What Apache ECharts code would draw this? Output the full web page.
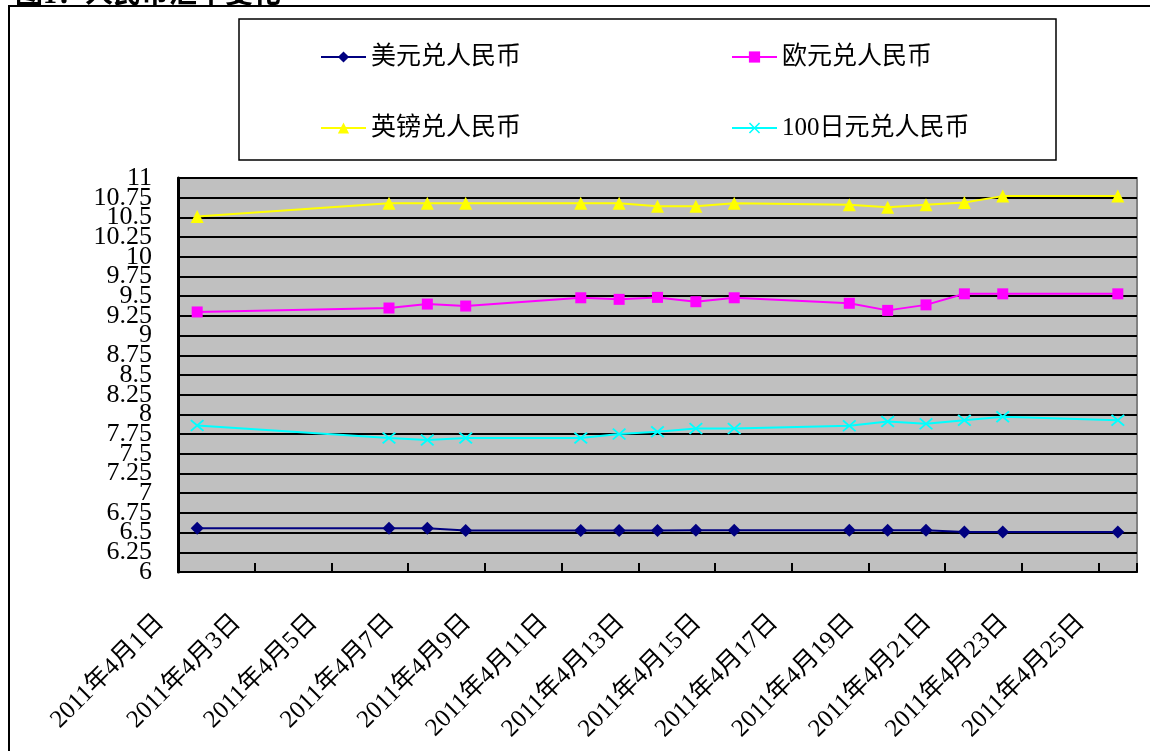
<!DOCTYPE html>
<html>
<head>
<meta charset="utf-8">
<script src="https://cdn.jsdelivr.net/npm/echarts@6/dist/echarts.min.js"></script>
<style>
html,body{margin:0;padding:0;background:#fff;}
#frame{position:absolute;left:8px;top:5px;width:1200px;height:800px;border-left:2px solid #000;border-top:2px solid #000;box-sizing:border-box;}
#main{position:absolute;left:0;top:0;width:1150px;height:751px;}
</style>
</head>
<body>
<div id="frame"></div>
<div id="main"></div>
<script>
// x-axis categories (every calendar day)
const categories = [
  "2011年4月1日","2011年4月2日","2011年4月3日","2011年4月4日","2011年4月5日",
  "2011年4月6日","2011年4月7日","2011年4月8日","2011年4月9日","2011年4月10日",
  "2011年4月11日","2011年4月12日","2011年4月13日","2011年4月14日","2011年4月15日",
  "2011年4月16日","2011年4月17日","2011年4月18日","2011年4月19日","2011年4月20日",
  "2011年4月21日","2011年4月22日","2011年4月23日","2011年4月24日","2011年4月25日"
];
// trading days that carry a value
const tradeDates = [
  "2011年4月1日","2011年4月6日","2011年4月7日","2011年4月8日","2011年4月11日",
  "2011年4月12日","2011年4月13日","2011年4月14日","2011年4月15日","2011年4月18日",
  "2011年4月19日","2011年4月20日","2011年4月21日","2011年4月22日","2011年4月25日"
];
const seriesNames = ["美元兑人民币","欧元兑人民币","英镑兑人民币","100日元兑人民币"];
const usd = [6.556,6.556,6.556,6.527,6.528,6.528,6.528,6.530,6.530,6.530,6.530,6.530,6.508,6.507,6.507];
const eur = [9.30,9.35,9.40,9.375,9.48,9.46,9.485,9.43,9.48,9.41,9.32,9.39,9.53,9.53,9.53];
const gbp = [10.51,10.68,10.68,10.68,10.68,10.68,10.64,10.64,10.68,10.66,10.63,10.66,10.69,10.77,10.77];
const jpy = [7.86,7.70,7.675,7.70,7.70,7.75,7.78,7.82,7.82,7.855,7.91,7.88,7.925,7.97,7.925];
const yMin = 6, yMax = 11, yStep = 0.25;

const FONT = "'Liberation Serif','Noto Sans CJK SC',serif";
const colors = ["#000080","#ff00ff","#ffff00","#00ffff"];
const symbols = ["diamond","rect","triangle",
  "path://M0,1L1,0L5,4L9,0L10,1L6,5L10,9L9,10L5,6L1,10L0,9L4,5Z"];
const symbolSizes = [13,11,13,[14,12]];
const values = [usd,eur,gbp,jpy];

// two overlaid value axes share the scale; each shows alternate tick labels
function labelFor(parity) {
  return v => (Math.round((v - yMin) / yStep) % 2 === parity) ? String(v) : '';
}
const yLabelStyle = {margin: 26, fontFamily: FONT, fontSize: 26, color: '#000',
  showMinLabel: true, showMaxLabel: true};

const chart = echarts.init(document.getElementById('main'), null, {renderer:'canvas'});
const option = {
  backgroundColor: 'transparent',
  animation: false,
  title: {
    text: '图1：人民币汇率变化',
    left: 10, top: -23,
    textStyle: {fontFamily: FONT, fontSize: 28, fontWeight: 'bold', color: '#000'}
  },
  graphic: [{
    type: 'rect', z: 0,
    shape: {x: 239, y: 19, width: 817, height: 141},
    style: {fill: '#fff', stroke: '#000', lineWidth: 1.5}
  }],
  legend: [
    {data: [seriesNames[0], seriesNames[1]], left: 320, top: 43, padding: 0,
     itemWidth: 45, itemHeight: 14, itemGap: 210, z: 5,
     textStyle: {fontFamily: FONT, fontSize: 25, color: '#000', lineHeight: 28}},
    {data: [seriesNames[2], seriesNames[3]], left: 320, top: 114, padding: 0,
     itemWidth: 45, itemHeight: 14, itemGap: 210, z: 5,
     textStyle: {fontFamily: FONT, fontSize: 25, color: '#000', lineHeight: 28}}
  ],
  grid: {
    left: 178, right: 13, top: 178, bottom: 179,
    show: true, backgroundColor: '#c0c0c0', borderColor: '#808080', borderWidth: 2
  },
  xAxis: {
    type: 'category', data: categories, boundaryGap: true,
    axisLine: {lineStyle: {color: '#000', width: 2}},
    axisTick: {show: true, inside: true, length: 9, interval: 1, lineStyle: {color: '#000', width: 2}},
    axisLabel: {interval: 1, rotate: 45, margin: 10, padding: [0, 52, 0, 0],
      fontFamily: FONT, fontSize: 25, color: '#000'},
    splitLine: {show: false}
  },
  yAxis: [
    {
      type: 'value', min: yMin, max: yMax, interval: yStep, position: 'left',
      axisLine: {show: true, lineStyle: {color: '#000', width: 3}},
      axisTick: {show: true, inside: true, length: 8, lineStyle: {color: '#000', width: 2}},
      axisLabel: Object.assign({formatter: labelFor(0)}, yLabelStyle),
      splitLine: {show: true, lineStyle: {color: '#000', width: 2}}
    },
    {
      type: 'value', min: yMin, max: yMax, interval: yStep, position: 'left', offset: 0,
      axisLine: {show: false}, axisTick: {show: false}, splitLine: {show: false},
      axisLabel: Object.assign({formatter: labelFor(1)}, yLabelStyle)
    }
  ],
  series: seriesNames.map((name, k) => ({
    name: name, type: 'line', yAxisIndex: 0,
    data: tradeDates.map((d, i) => [d, values[k][i]]),
    symbol: symbols[k], symbolSize: symbolSizes[k], showSymbol: true,
    connectNulls: true,
    lineStyle: {color: colors[k], width: 2},
    itemStyle: {color: colors[k]},
    z: 3
  }))
};
chart.setOption(option);
</script>
</body>
</html>
